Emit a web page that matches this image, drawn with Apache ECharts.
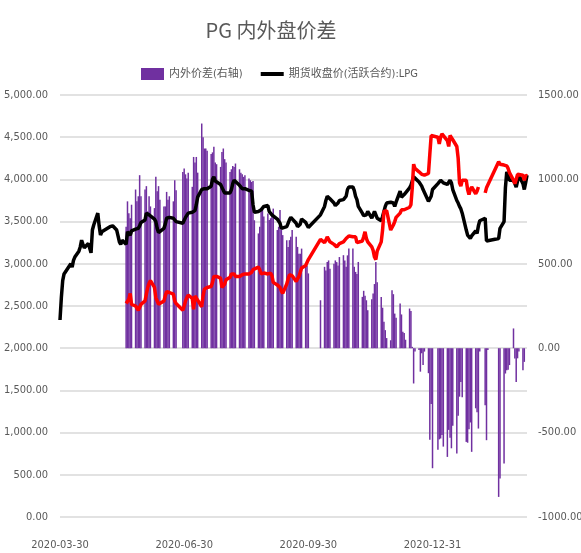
<!DOCTYPE html>
<html>
<head>
<meta charset="utf-8">
<script src="https://cdn.jsdelivr.net/npm/echarts@6/dist/echarts.min.js"></script>
<style>
  html, body { margin: 0; padding: 0; background: #fff; }
  #chart { width: 581px; height: 553px; }
</style>
</head>
<body>
<div id="chart"></div>
<script>
// x axis: calendar days, trading days only carry data
const START = "2020-03-30";
const END = "2021-03-11";
const SPREAD_START = "2020-05-18"; // red line + bars begin here
const holidays = [
  "2020-04-06", "2020-05-01", "2020-05-04", "2020-05-05", "2020-06-25", "2020-06-26",
  "2020-10-01", "2020-10-02", "2020-10-05", "2020-10-06", "2020-10-07", "2020-10-08",
  "2021-01-01", "2021-02-11", "2021-02-12", "2021-02-15", "2021-02-16", "2021-02-17"
];
const tickLabels = ["2020-03-30", "2020-06-30", "2020-09-30", "2020-12-31"];

// 期货收盘价(活跃合约):LPG, one value per trading day from START
const lpgClose = [
  2334, 2600,
  2800, 2880, 2900, 3000, 2960, 3040, 3080, 3150, 3200, 3280, 3230, 3190, 3240, 3220, 3130, 3400, 3460, 3600, 3450, 3340, 3380,
  3440, 3460, 3450, 3400, 3330, 3260, 3230, 3280, 3230, 3380, 3360, 3340, 3390, 3410, 3420, 3420, 3450, 3490,
  3520, 3600, 3600, 3580, 3570, 3530, 3500, 3420, 3370, 3360, 3420, 3470, 3540, 3560, 3550, 3540, 3520, 3500, 3480, 3500,
  3550, 3560, 3600, 3610, 3600, 3630, 3700, 3790, 3880, 3890, 3890, 3890, 3890, 3920, 4000, 4030, 3980, 3970, 3940, 3920, 3870, 3840, 3840,
  3840, 3880, 3950, 3990, 3970, 3930, 3910, 3890, 3880, 3890, 3870, 3870, 3860, 3700, 3610, 3620, 3630, 3640, 3660, 3680, 3690,
  3620, 3600, 3580, 3560, 3530, 3520, 3480, 3420, 3400, 3440, 3480, 3520, 3550, 3540, 3480, 3440, 3420, 3470, 3530, 3490, 3460, 3430,
  3580, 3680, 3750, 3800, 3815, 3770, 3720, 3690, 3680, 3720, 3750, 3760, 3770, 3800, 3880, 3910,
  3910, 3870, 3800, 3760, 3680, 3600, 3570, 3560, 3580, 3620, 3540, 3580, 3620, 3600, 3540, 3510, 3560, 3620, 3680, 3720, 3730,
  3750, 3720, 3680, 3730, 3860, 3790, 3790, 3820, 3840, 3900, 3930, 3980, 4030, 4020, 3970, 3960, 3920, 3880, 3860, 3740, 3720, 3800, 3880,
  3950, 3970, 3990, 3990, 3960, 3940, 3960, 3990, 3960, 3880, 3750, 3720, 3680, 3650, 3600, 3400, 3340, 3320, 3300, 3330,
  3390, 3360, 3450, 3510, 3520, 3540, 3270, 3262, 3300, 3420, 3500, 3900, 4090, 4050, 3990,
  3990, 3950, 3910, 3980, 4050, 3950, 3880, 3960, 4050
];

// red line (left axis), one value per trading day from SPREAD_START
const outerPrice = [
  2530, 2540, 2580, 2650, 2520, 2500, 2520, 2450, 2450, 2520,
  2560, 2640, 2720, 2770, 2800, 2720, 2600, 2560, 2520, 2530, 2560, 2620, 2670, 2670, 2660, 2640, 2560, 2530, 2450, 2500,
  2560, 2600, 2630, 2590, 2460, 2620, 2600, 2570, 2490, 2620, 2700, 2710, 2720, 2730, 2780, 2850, 2860, 2850, 2830, 2720, 2700, 2760, 2810,
  2840, 2880, 2900, 2880, 2850, 2850, 2860, 2870, 2870, 2880, 2880, 2890, 2900, 2930, 2940, 2960, 2930, 2880, 2880, 2890, 2880,
  2880, 2890, 2860, 2780, 2750, 2750, 2720, 2680, 2650, 2760, 2820, 2870, 2880, 2860, 2790, 2820, 2850, 2900, 2950, 2980, 2990, 3050,
  3290, 3250, 3280, 3320, 3340, 3260, 3230, 3210, 3200, 3220, 3240, 3260, 3280, 3300, 3320, 3330,
  3320, 3340, 3320, 3250, 3250, 3270, 3320, 3380, 3300, 3260, 3200, 3160, 3080, 3050, 3150, 3260, 3400, 3620, 3640, 3630, 3400,
  3420, 3460, 3500, 3550, 3600, 3640, 3640, 3640, 3650, 3670, 3700, 3900, 4180, 4130, 4090, 4070, 4060, 4060, 4050, 4070, 4300, 4520, 4530,
  4500, 4420, 4500, 4540, 4530, 4460, 4390, 4520, 4500, 4470, 4390, 4250, 3960, 3920, 3990, 3990, 3880, 3820, 3880, 3910,
  3830, 3860, 3910, null, null, 3840, 3900, 3920, 4210, 4180, 4170, 4190, 4160, 4130, 4080,
  3990, 3950, 4000, 4060, 4070, 4050, 3990, 4050, 4040
];

// 内外价差(右轴), one value per trading day from SPREAD_START
const spread = [
  720, 870, 800, 770, 850, 940, 870, 900, 1025, 900,
  940, 960, 810, 900, 840, 830, 1015, 930, 960, 880, 840, 840, 926, 880, 900, 870, 995, 936, 1044, 1064,
  1030, 1005, 1040, 956, 1133, 1100, 1133, 1040, 1331, 1250, 1183, 1183, 1170, 1150, 1160, 1193, 1100, 1090, 1074, 1163, 1183, 1120, 1100,
  1044, 1060, 1080, 1074, 1094, 1060, 1040, 1030, 1015, 1025, 1005, 995, 985, 990, 758, 680, 720, 827, 818, 780, 798,
  760, 770, 800, 827, 700, 720, 818, 700, 670, 640, 600, 640, 660, 700, 660, 600, 560, 560, 590, 500, 490, 443,
  284, 482, 460, 511, 520, 470, 500, 520, 510, 490, 540, 551, 520, 482, 550, 591,
  591, 482, 452, 440, 511, 304, 340, 310, 284, 225, 290, 324, 380, 511, 390, 304, 240, 156, 107, 60, 47,
  344, 320, 205, 180, 265, 200, 97, 90, 50, 235, 220, 8, -209, -20, -10, -139, -30, -99, -20, -148, -543, -330, -711,
  -602, -540, -535, -514, -583, -644, -484, -530, -593, -460, -624, -400, -287, -200, -290, -555, -560, -480, -440, -614,
  -356, -380, -476, -20, null, -338, -545, -10, -881, -772, -683, -150, -130, -128, -100,
  117, -61, -200, -60, -20, -130, -81, null, null
];

function fmt(t) {
  return new Date(t).toISOString().slice(0, 10);
}
const days = [];
const tradingDays = [];
for (let t = Date.parse(START + "T00:00:00Z"); t <= Date.parse(END + "T00:00:00Z"); t += 86400000) {
  const d = fmt(t);
  days.push(d);
  const wd = new Date(t).getUTCDay();
  if (wd !== 0 && wd !== 6 && holidays.indexOf(d) < 0) tradingDays.push(d);
}
const spreadDays = tradingDays.slice(tradingDays.indexOf(SPREAD_START));

const TEXT = "#595959";
const FONT = "'Liberation Sans Narrow','DejaVu Sans Condensed','Noto Sans CJK SC',sans-serif";

const chart = echarts.init(document.getElementById("chart"));
chart.setOption({
  animation: false,
  backgroundColor: "#ffffff",
  title: {
    text: "PG 内外盘价差",
    left: 266,
    textAlign: "center",
    top: 15,
    textStyle: { color: TEXT, fontSize: 20, fontWeight: "normal", fontFamily: "'Noto Sans CJK SC',sans-serif" }
  },
  legend: {
    top: 63,
    left: 136,
    itemGap: 16,
    itemWidth: 23,
    itemHeight: 12,
    textStyle: { color: TEXT, fontSize: 11, fontFamily: FONT },
    data: [
      { name: "内外价差(右轴)", icon: "rect" },
      { name: "期货收盘价(活跃合约):LPG", itemStyle: { opacity: 0 }, lineStyle: { width: 4 } }
    ]
  },
  grid: { left: 60, right: 54, top: 95, bottom: 36, outerBoundsMode: "none" },
  xAxis: {
    type: "category",
    data: days,
    boundaryGap: false,
    axisLine: { show: false },
    axisTick: { show: false },
    axisLabel: {
      interval: 91,
      margin: 23,
      color: TEXT,
      fontSize: 11,
      fontFamily: FONT,
      formatter: v => (tickLabels.indexOf(v) >= 0 ? v : "")
    },
    splitLine: { show: false }
  },
  yAxis: [
    {
      type: "value",
      min: 0,
      max: 5000,
      interval: 500,
      axisLine: { show: false },
      axisTick: { show: false },
      axisLabel: {
        margin: 12,
        color: TEXT,
        fontSize: 11,
        fontFamily: FONT,
        formatter: v => v.toLocaleString("en-US", { minimumFractionDigits: 2, maximumFractionDigits: 2 })
      },
      splitLine: { lineStyle: { color: "#d9d9d9", width: 1.5 } }
    },
    {
      type: "value",
      min: -1000,
      max: 1500,
      interval: 500,
      axisLine: { show: false },
      axisTick: { show: false },
      axisLabel: {
        margin: 11,
        color: TEXT,
        fontSize: 11,
        fontFamily: FONT,
        formatter: v => v.toFixed(2)
      },
      splitLine: { show: false }
    }
  ],
  series: [
    {
      name: "内外价差(右轴)",
      type: "bar",
      yAxisIndex: 1,
      barWidth: 1.5,
      itemStyle: { color: "#7030A0" },
      data: spreadDays.map((d, i) => [d, spread[i]])
    },
    {
      name: "期货收盘价(活跃合约):LPG",
      type: "line",
      yAxisIndex: 0,
      symbol: "none",
      lineStyle: { color: "#000000", width: 3.5 },
      itemStyle: { color: "#000000" },
      data: tradingDays.map((d, i) => [d, lpgClose[i]])
    },
    {
      name: "外盘价格",
      type: "line",
      yAxisIndex: 0,
      symbol: "none",
      connectNulls: false,
      lineStyle: { color: "#ff0000", width: 3.5 },
      itemStyle: { color: "#ff0000" },
      data: spreadDays.map((d, i) => [d, outerPrice[i] === null ? "-" : outerPrice[i]])
    }
  ]
});
</script>
</body>
</html>
